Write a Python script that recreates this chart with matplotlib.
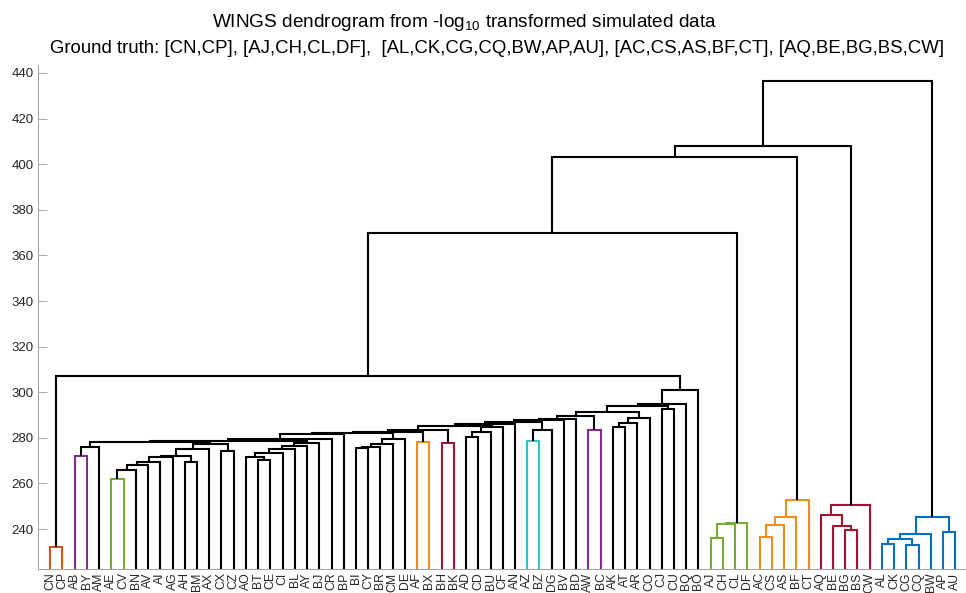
import matplotlib
matplotlib.use("Agg")
import matplotlib.pyplot as plt

plt.rcParams["font.family"] = ["Liberation Sans", "DejaVu Sans"]
plt.rcParams["mathtext.fontset"] = "custom"
plt.rcParams["mathtext.rm"] = "Liberation Sans"
plt.rcParams["mathtext.default"] = "regular"

# leaf order along the x axis
leaves = ["CN", "CP", "AB", "BY", "AM", "AE", "CV", "BN", "AV", "AI", "AG", "AH", "BM",
          "AX", "CX", "CZ", "AO", "BT", "CE", "CI", "BL", "AY", "BJ", "CR", "BP", "BI",
          "CY", "BR", "CM", "DE", "AF", "BX", "BH", "BK", "AD", "CD", "BU", "CF", "AN",
          "AZ", "BZ", "DG", "BV", "BD", "AW", "BC", "AK", "AT", "AR", "CO", "CJ", "CU",
          "BQ", "BO", "AJ", "CH", "CL", "DF", "AC", "CS", "AS", "BF", "CT", "AQ", "BE",
          "BG", "BS", "CW", "AL", "CK", "CG", "CQ", "BW", "AP", "AU"]

ORANGE_RED = "#D95319"
PURPLE = "#7E2F8E"
GREEN = "#77AC30"
ORANGE = "#EE9020"
CRIMSON = "#A2142F"
CYAN = "#2EC4C8"
BLUE = "#0072BD"
BLACK = "#000000"

# merges: name, left child, right child, height
merges = [
    ("cncp", "CN", "CP", 232.1),
    # left block
    ("abby", "AB", "BY", 272.2),
    ("a2", "abby", "AM", 276.0),
    ("aecv", "AE", "CV", 261.8),
    ("b2", "aecv", "BN", 266.0),
    ("b3", "b2", "AV", 268.0),
    ("b4", "b3", "AI", 269.4),
    ("b5", "b4", "AG", 271.7),
    ("ahbm", "AH", "BM", 269.6),
    ("b6", "b5", "ahbm", 272.2),
    ("b7", "b6", "AX", 275.0),
    ("cxcz", "CX", "CZ", 274.3),
    ("b8", "b7", "cxcz", 277.2),
    ("btce", "BT", "CE", 270.1),
    ("d2", "AO", "btce", 271.4),
    ("d3", "d2", "CI", 273.5),
    ("d4", "d3", "BL", 275.2),
    ("d5", "d4", "AY", 276.6),
    ("d6", "d5", "BJ", 277.6),
    ("bicy", "BI", "CY", 275.5),
    ("e2", "bicy", "BR", 276.1),
    ("e3", "e2", "CM", 277.2),
    ("e4", "e3", "DE", 279.3),
    ("afbx", "AF", "BX", 278.1),
    ("bhbk", "BH", "BK", 277.9),
    ("adcd", "AD", "CD", 280.5),
    ("h2", "adcd", "BU", 282.4),
    ("h3", "h2", "CF", 284.9),
    ("azbz", "AZ", "BZ", 278.8),
    ("j2", "azbz", "DG", 283.4),
    ("awbc", "AW", "BC", 283.4),
    ("akat", "AK", "AT", 284.6),
    ("k2", "akat", "AR", 286.7),
    ("k3", "k2", "CO", 288.5),
    ("cjcu", "CJ", "CU", 292.5),
    # chain that absorbs the groups above one after another
    ("t1", "a2", "b8", 278.3),
    ("t2", "t1", "d6", 278.8),
    ("t3", "t2", "CR", 279.3),
    ("t4", "t3", "BP", 281.5),
    ("t5", "t4", "e4", 282.0),
    ("t6", "t5", "afbx", 282.4),
    ("t7", "t6", "bhbk", 283.4),
    ("t8", "t7", "h3", 285.0),
    ("t9", "t8", "AN", 285.9),
    ("t10", "t9", "j2", 287.1),
    ("t11", "t10", "BV", 287.8),
    ("t12", "t11", "BD", 288.3),
    ("t13", "t12", "awbc", 289.5),
    ("t14", "t13", "k3", 291.5),
    ("t15", "t14", "cjcu", 294.1),
    ("t16", "t15", "BQ", 294.8),
    ("t17", "t16", "BO", 301.0),
    ("blk", "cncp", "t17", 307.0),
    # right-hand groups
    ("ajch", "AJ", "CH", 236.0),
    ("gr2", "ajch", "CL", 242.1),
    ("gr3", "gr2", "DF", 242.8),
    ("accs", "AC", "CS", 236.4),
    ("o2", "accs", "AS", 241.6),
    ("o3", "o2", "BF", 245.4),
    ("o4", "o3", "CT", 252.7),
    ("bgbs", "BG", "BS", 239.4),
    ("r2", "BE", "bgbs", 241.3),
    ("r3", "AQ", "r2", 246.3),
    ("r4", "r3", "CW", 250.4),
    ("alck", "AL", "CK", 233.6),
    ("cgcq", "CG", "CQ", 233.1),
    ("bl3", "alck", "cgcq", 235.5),
    ("bl4", "bl3", "BW", 237.7),
    ("apau", "AP", "AU", 238.8),
    ("bl6", "bl4", "apau", 245.3),
    ("s1", "blk", "gr3", 369.8),
    ("s2", "s1", "o4", 403.3),
    ("s3", "s2", "r4", 408.2),
    ("root", "s3", "bl6", 436.6),
]

# colored sub-clusters: top merge name -> colour
cluster_colors = {
    "cncp": ORANGE_RED, "abby": PURPLE, "aecv": GREEN, "afbx": ORANGE,
    "bhbk": CRIMSON, "azbz": CYAN, "awbc": PURPLE, "gr3": GREEN,
    "o4": ORANGE, "r4": CRIMSON, "bl6": BLUE,
}

YMIN, YMAX = 222.5, 443.5

fig = plt.figure(figsize=(9.66, 5.93), dpi=100)
ax = fig.add_axes([38 / 966, 24 / 593, 929.5 / 966, 504 / 593])

xpos = {name: i + 1 for i, name in enumerate(leaves)}
ypos = {name: YMIN for name in leaves}
children = {}
for name, left, right, h in merges:
    xpos[name] = (xpos[left] + xpos[right]) / 2
    ypos[name] = h
    children[name] = (left, right)

# propagate cluster colour down to every merge inside the cluster
link_color = {name: BLACK for name, *_ in merges}
for top, col in cluster_colors.items():
    stack = [top]
    while stack:
        n = stack.pop()
        if n in children:
            link_color[n] = col
            stack.extend(children[n])

for name, left, right, h in merges:
    ax.plot([xpos[left], xpos[left], xpos[right], xpos[right]],
            [ypos[left], h, h, ypos[right]],
            color=link_color[name], lw=1.5, solid_joinstyle="miter",
            solid_capstyle="butt", clip_on=True)

ax.set_xlim(0, len(leaves) + 1)
ax.set_ylim(YMIN, YMAX)
ax.set_yticks(range(240, 441, 20))
ax.set_xticks(range(1, len(leaves) + 1))
ax.set_xticklabels(leaves, rotation=90, fontsize=8.8, color="#262626")
ax.tick_params(axis="x", length=0, pad=2.5)
ax.tick_params(axis="y", direction="in", length=6.5, width=0.6, color="#9a9a9a",
               labelsize=9.5, labelcolor="#262626", pad=3)
for side in ("top", "right"):
    ax.spines[side].set_visible(False)
for side in ("left", "bottom"):
    ax.spines[side].set_color("#a0a0a0")
    ax.spines[side].set_linewidth(0.7)

fig.text(465 / 966, 1 - 27 / 593,
         r"WINGS dendrogram from -log$_{10}$ transformed simulated data",
         ha="center", va="baseline", fontsize=13.7, color="#000000")
fig.text(497 / 966, 1 - 53 / 593,
         "Ground truth: [CN,CP], [AJ,CH,CL,DF],  [AL,CK,CG,CQ,BW,AP,AU], "
         "[AC,CS,AS,BF,CT], [AQ,BE,BG,BS,CW]",
         ha="center", va="baseline", fontsize=13.45, color="#000000")

fig.savefig("out.png", dpi=100)
